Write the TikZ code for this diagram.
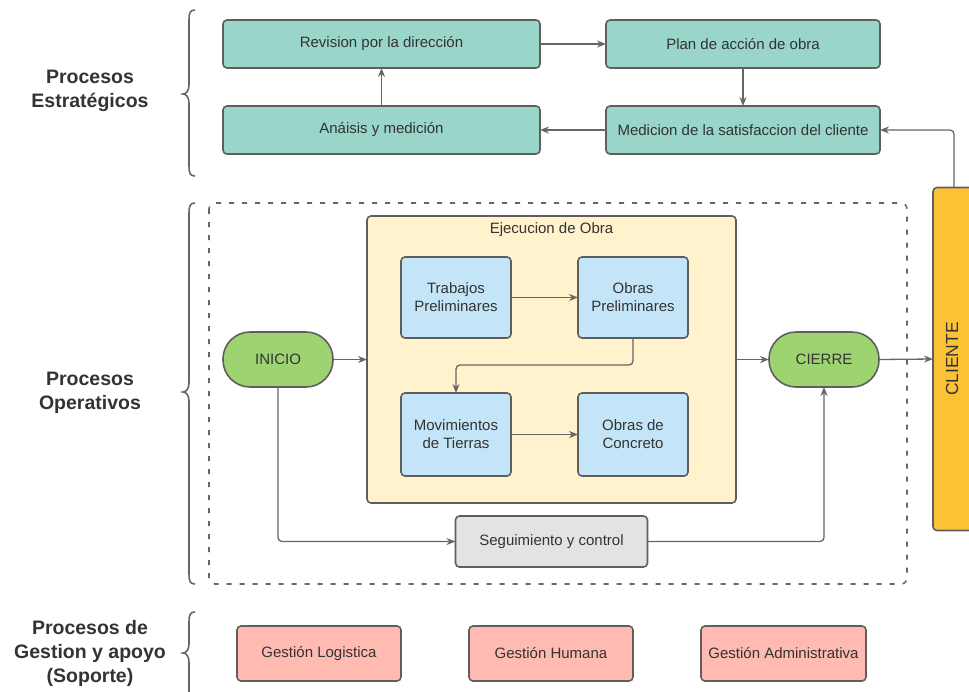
\documentclass[tikz,border=0pt]{standalone}
\usepackage{fontspec}
\setmainfont{Liberation Sans}
\usetikzlibrary{arrows.meta}
\definecolor{teal1}{HTML}{99D5C9}
\definecolor{yel1}{HTML}{FFF2CC}
\definecolor{blue1}{HTML}{C4E5F7}
\definecolor{green1}{HTML}{9DD471}
\definecolor{gray1}{HTML}{E3E3E3}
\definecolor{pink1}{HTML}{FFBBB1}
\definecolor{orange1}{HTML}{FBC236}
\definecolor{bord}{HTML}{5E5E5E}
\definecolor{arrc}{HTML}{666666}
\definecolor{txt}{HTML}{333333}
\tikzset{
  box/.style={draw=bord, line width=1.6pt, rounded corners=4pt, inner sep=0pt, outer sep=0pt,
    align=center, text=txt, font=\fontsize{15}{18}\selectfont},
  tealbox/.style={box, fill=teal1, minimum height=48pt},
  bluebox/.style={box, fill=blue1, minimum width=110pt},
  pinkbox/.style={box, fill=pink1, minimum height=55pt},
  pill/.style={box, fill=green1, minimum width=110pt, minimum height=55pt, rounded corners=27pt},
  arr/.style={draw=arrc, line width=1.3pt, -{Stealth[length=9pt,width=7pt]}},
  brc/.style={draw=arrc, line width=1.6pt},
  lab/.style={align=center, text=txt, font=\fontsize{19.5}{24}\selectfont\bfseries},
}
\begin{document}
\begin{tikzpicture}[x=1pt,y=-1pt]
\useasboundingbox (0,0) rectangle (969,691);
\fill[white] (0,0) rectangle (969,691);

% left labels
\node[lab] (l1) at (90,91) {Procesos\\Estratégicos};
\node[lab] (l2) at (90,393) {Procesos\\Operativos};
\node[lab] (l3) at (90,653) {Procesos de\\Gestion y apoyo\\(Soporte)};

% braces
\draw[brc] (195,10) .. controls (190,10) and (189,13) .. (189,20) -- (189,85) .. controls (189,91) and (186,94) .. (183,94) .. controls (186,94) and (189,97) .. (189,103) -- (189,166) .. controls (189,173) and (190,176) .. (195,176);
\draw[brc] (195,203) .. controls (190,203) and (189,206) .. (189,213) -- (189,383) .. controls (189,389) and (186,392) .. (183,392) .. controls (186,392) and (189,395) .. (189,401) -- (189,574) .. controls (189,581) and (190,584) .. (195,584);
\draw[brc] (195,612) .. controls (190,612) and (189,615) .. (189,622) -- (189,644) .. controls (189,650) and (186,653) .. (183,653) .. controls (186,653) and (189,656) .. (189,662) -- (189,700);

% strategic
\node[tealbox, minimum width=317pt] (rev) at (381.5,44) {Revision por la dirección};
\node[tealbox, minimum width=274pt] (plan) at (743,44) {Plan de acción de obra};
\node[tealbox, minimum width=274pt] (med) at (743,130) {Medicion de la satisfaccion del cliente};
\node[tealbox, minimum width=317pt] (ana) at (381.5,130) {Anáisis y medición};
\draw[arr] (rev.east) -- (plan.west);
\draw[arr] (plan.south) -- (med.north);
\draw[arr] (med.west) -- (ana.east);
\draw[arr] (ana.north) -- (rev.south);

% client
\node[box, fill=orange1, minimum width=42pt, minimum height=343pt] (cli) at (954,359) {};
\node[text=txt, font=\fontsize{17.5}{20}\selectfont, rotate=90] (clit) at (952,359) {CLIENTE};
\draw[arr, rounded corners=4pt] (cli.north) |- (med.east);

% operative frame
\draw[arrc, line width=1.6pt, dash pattern=on 5pt off 8pt, rounded corners=6pt] (209,203) rectangle (907,584);
\node[box, fill=yel1, minimum width=369pt, minimum height=287pt] (ejec) at (551.5,359.5) {};
\node[text=txt, font=\fontsize{15}{18}\selectfont] (ejt) at (551.5,230) {Ejecucion de Obra};

\node[bluebox, minimum height=81pt] (trab) at (456,297.5) {Trabajos\\Preliminares};
\node[bluebox, minimum height=81pt] (obpre) at (633,297.5) {Obras\\Preliminares};
\node[bluebox, minimum height=83pt] (mov) at (456,434.5) {Movimientos\\de Tierras};
\node[bluebox, minimum height=83pt] (conc) at (633,434.5) {Obras de\\Concreto};
\draw[arr] (trab.east) -- (obpre.west);
\draw[arr] (mov.east) -- (conc.west);
\coordinate (bend) at (456,365);
\draw[arr, rounded corners=4pt] (obpre.south) |- (bend) -- (mov.north);

\node[pill] (ini) at (278,359.5) {INICIO};
\node[pill] (cie) at (824,359.5) {CIERRE};
\node[box, fill=gray1, minimum width=192pt, minimum height=51pt] (seg) at (551.5,541.5) {Seguimiento y control};
\draw[arr] (ini.east) -- (ejec.west);
\draw[arr] (ejec.east) -- (cie.west);
\draw[arr] (cie.east) -- (cli.west);
\draw[arr, rounded corners=4pt] (ini.south) |- (seg.west);
\draw[arr, rounded corners=4pt] (seg.east) -| (cie.south);

% support
\node[pinkbox, minimum width=164pt] (gl) at (319,653.5) {Gestión Logistica};
\node[pinkbox, minimum width=164pt] (gh) at (551,653.5) {Gestión Humana};
\node[pinkbox, minimum width=165pt] (ga) at (783.5,653.5) {Gestión Administrativa};
\end{tikzpicture}
\end{document}
